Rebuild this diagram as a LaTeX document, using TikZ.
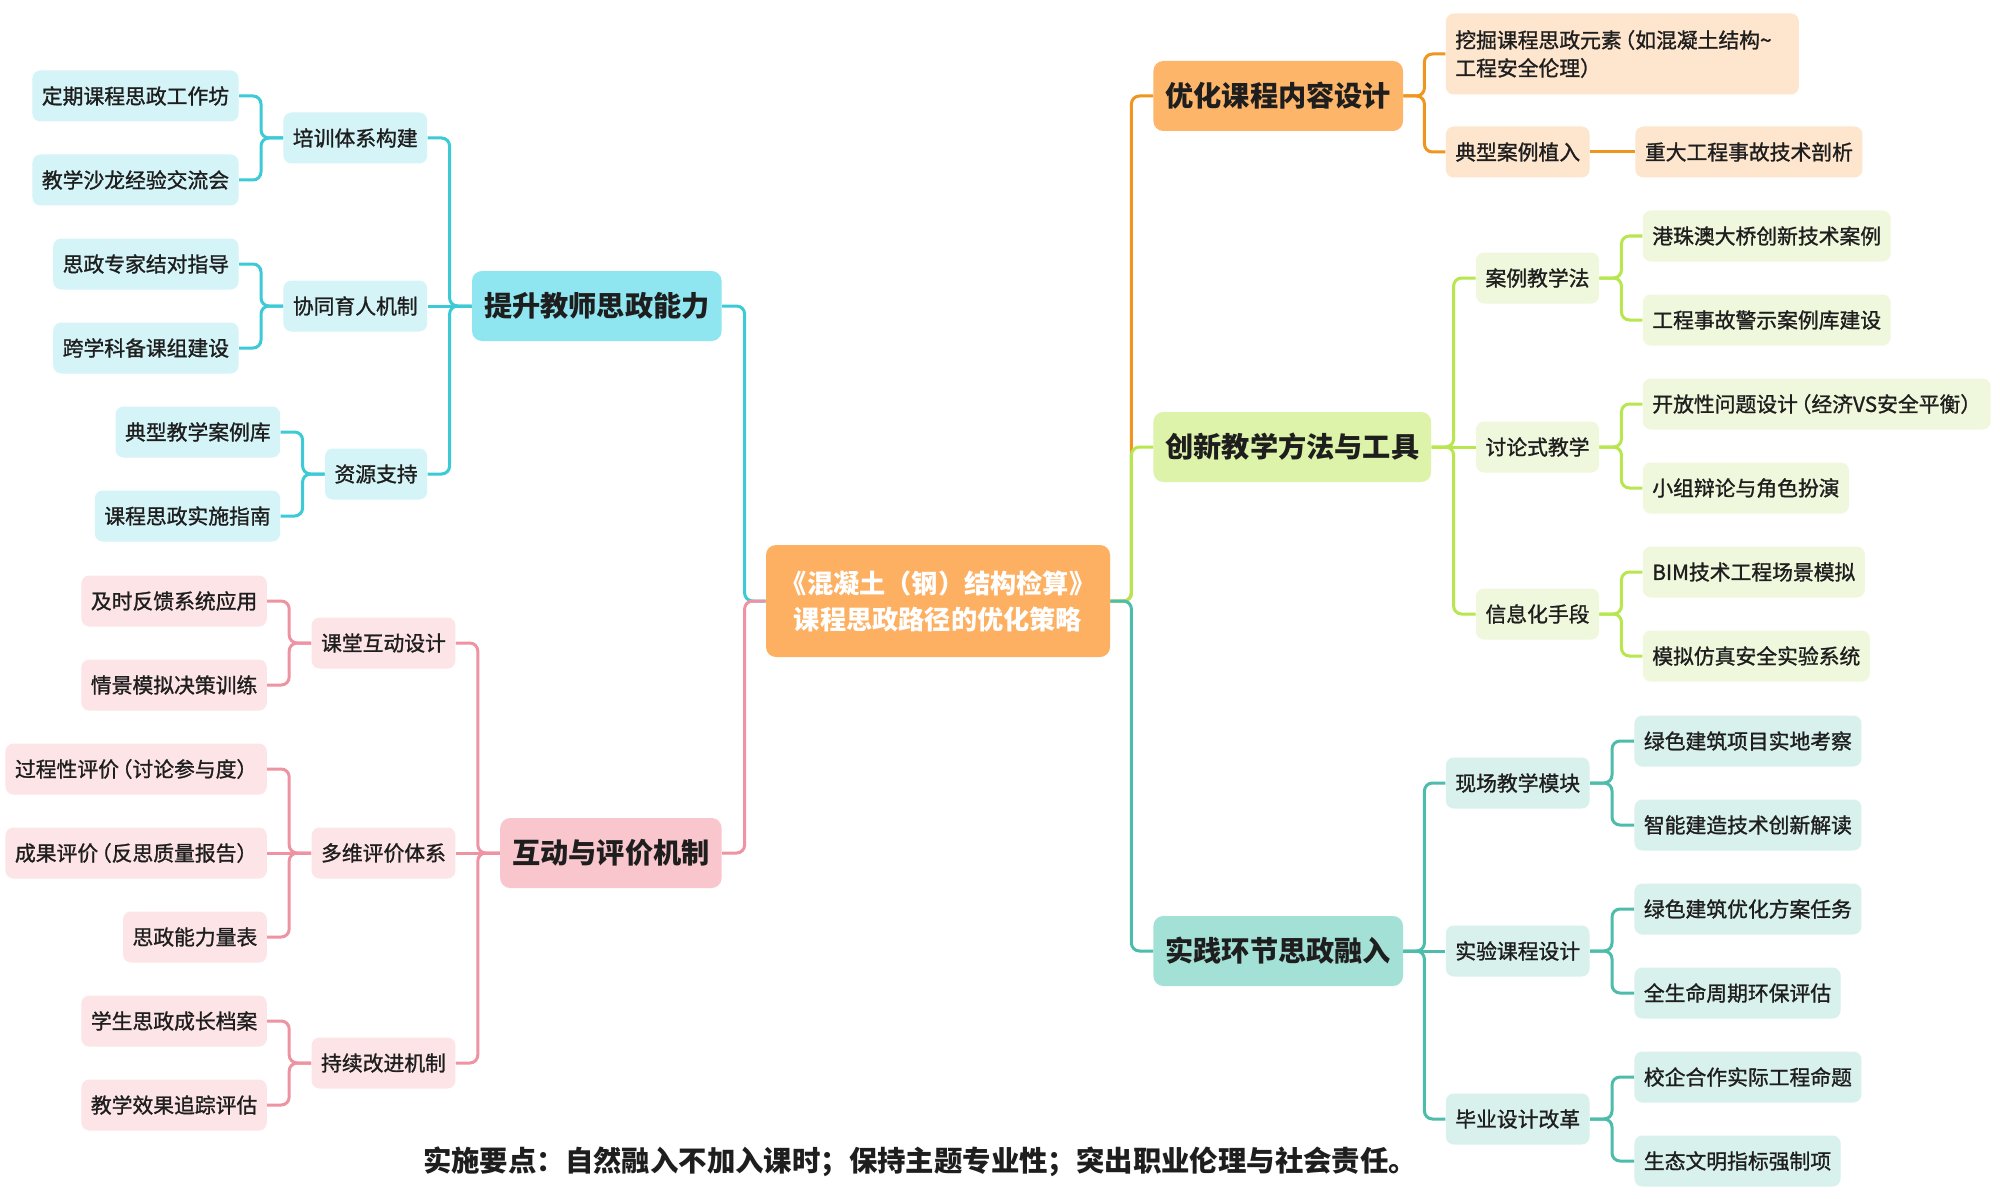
\documentclass[tikz,border=0pt]{standalone}
\usepackage{fontspec}
\setmainfont{Noto Sans CJK SC}
\newfontfamily\medfont{Noto Sans CJK SC}[FakeBold=1.2]
\usetikzlibrary{calc}
\newcommand{\lpar}{\hspace{-0.35em}（}
\newcommand{\rpar}{）\hspace{-0.35em}}
\definecolor{cyL}{HTML}{3CCAD6}\definecolor{cyA}{HTML}{8FE6F0}\definecolor{cyB}{HTML}{D4F4F8}
\definecolor{pkL}{HTML}{EE93A2}\definecolor{pkA}{HTML}{FAC6CD}\definecolor{pkB}{HTML}{FDE4E7}
\definecolor{orL}{HTML}{EE961F}\definecolor{orA}{HTML}{FDB56A}\definecolor{orB}{HTML}{FEE5CD}
\definecolor{grL}{HTML}{B7E64E}\definecolor{grA}{HTML}{DDF3A9}\definecolor{grB}{HTML}{EFF8DC}
\definecolor{tlL}{HTML}{4DBCAA}\definecolor{tlA}{HTML}{A3E0D6}\definecolor{tlB}{HTML}{D8F1EC}
\definecolor{rootC}{HTML}{FDAF62}
\definecolor{txt}{HTML}{1E1E1E}
\tikzset{
  box/.style={rounded corners=4pt, inner xsep=4.75pt, inner ysep=0pt, minimum height=25.5pt,
    font=\medfont\fontsize{10.4}{13}\selectfont, text=txt},
  lone/.style={rounded corners=5pt, inner xsep=6pt, inner ysep=0pt, minimum height=35pt,
    font=\fontsize{14.1}{17}\selectfont\bfseries, text=txt},
  conn/.style={line width=1.5pt, rounded corners=4pt},
  cyline/.style={conn, draw=cyL}, pkline/.style={conn, draw=pkL}, orline/.style={conn, draw=orL},
  grline/.style={conn, draw=grL}, tlline/.style={conn, draw=tlL},
  cy1/.style={lone, fill=cyA}, cy2/.style={box, fill=cyB},
  pk1/.style={lone, fill=pkA}, pk2/.style={box, fill=pkB},
  or1/.style={lone, fill=orA}, or2/.style={box, fill=orB},
  gr1/.style={lone, fill=grA}, gr2/.style={box, fill=grB},
  tl1/.style={lone, fill=tlA}, tl2/.style={box, fill=tlB},
}
\begin{document}
\begin{tikzpicture}[x=0.5pt, y=-0.5pt]
\fill[white] (0,0) rectangle (2000,1198);
\useasboundingbox (0,0) rectangle (2000,1198);

% root
\node[fill=rootC, rounded corners=5pt, minimum width=172pt, minimum height=56pt, align=center,
  font=\fontsize{13.1}{18}\selectfont\bfseries, text=white] (root) at (938,601)
  {《混凝土（钢）结构检算》\\课程思政路径的优化策略};

% ---------- left top: cyan
\node[cy1, anchor=east] (p1) at (722,306) {提升教师思政能力};
\node[cy2, anchor=east] (a1) at ($(p1.west |- 0,138)+(-44,0)$) {培训体系构建};
\node[cy2, anchor=east] (a2) at ($(p1.west |- 0,306)+(-44,0)$) {协同育人机制};
\node[cy2, anchor=east] (a3) at ($(p1.west |- 0,474)+(-44,0)$) {资源支持};
\node[cy2, anchor=east] (a11) at ($(a1.west |- 0,96)+(-44,0)$) {定期课程思政工作坊};
\node[cy2, anchor=east] (a12) at ($(a1.west |- 0,180)+(-44,0)$) {教学沙龙经验交流会};
\node[cy2, anchor=east] (a21) at ($(a2.west |- 0,264)+(-44,0)$) {思政专家结对指导};
\node[cy2, anchor=east] (a22) at ($(a2.west |- 0,348)+(-44,0)$) {跨学科备课组建设};
\node[cy2, anchor=east] (a31) at ($(a3.west |- 0,432)+(-44,0)$) {典型教学案例库};
\node[cy2, anchor=east] (a32) at ($(a3.west |- 0,516)+(-44,0)$) {课程思政实施指南};

% ---------- left bottom: pink
\node[pk1, anchor=east] (p2) at (722,853) {互动与评价机制};
\node[pk2, anchor=east] (b1) at ($(p2.west |- 0,643)+(-44,0)$) {课堂互动设计};
\node[pk2, anchor=east] (b2) at ($(p2.west |- 0,853)+(-44,0)$) {多维评价体系};
\node[pk2, anchor=east] (b3) at ($(p2.west |- 0,1063)+(-44,0)$) {持续改进机制};
\node[pk2, anchor=east] (b11) at ($(b1.west |- 0,601)+(-44,0)$) {及时反馈系统应用};
\node[pk2, anchor=east] (b12) at ($(b1.west |- 0,685)+(-44,0)$) {情景模拟决策训练};
\node[pk2, anchor=east] (b21) at ($(b2.west |- 0,769)+(-44,0)$) {过程性评价\lpar 讨论参与度\rpar};
\node[pk2, anchor=east] (b22) at ($(b2.west |- 0,853)+(-44,0)$) {成果评价\lpar 反思质量报告\rpar};
\node[pk2, anchor=east] (b23) at ($(b2.west |- 0,937)+(-44,0)$) {思政能力量表};
\node[pk2, anchor=east] (b31) at ($(b3.west |- 0,1021)+(-44,0)$) {学生思政成长档案};
\node[pk2, anchor=east] (b32) at ($(b3.west |- 0,1105)+(-44,0)$) {教学效果追踪评估};

% ---------- right top: orange
\node[or1, anchor=west] (q1) at (1153,96) {优化课程内容设计};
\node[or2, anchor=west, align=left, text width=167pt, minimum height=40.5pt, font=\medfont\fontsize{10.4}{14}\selectfont] (c1)
  at ($(q1.east |- 0,54)+(42,0)$) {挖掘课程思政元素\lpar 如混凝土结构\textasciitilde\\工程安全伦理\rpar};
\node[or2, anchor=west] (c2) at ($(q1.east |- 0,152)+(42,0)$) {典型案例植入};
\node[or2, anchor=west] (c21) at ($(c2.east |- 0,152)+(45,0)$) {重大工程事故技术剖析};

% ---------- right middle: green
\node[gr1, anchor=west] (q2) at (1153,447) {创新教学方法与工具};
\node[gr2, anchor=west] (d1) at ($(q2.east |- 0,278)+(44,0)$) {案例教学法};
\node[gr2, anchor=west] (d2) at ($(q2.east |- 0,447)+(44,0)$) {讨论式教学};
\node[gr2, anchor=west] (d3) at ($(q2.east |- 0,614)+(44,0)$) {信息化手段};
\node[gr2, anchor=west] (d11) at ($(d1.east |- 0,236)+(43,0)$) {港珠澳大桥创新技术案例};
\node[gr2, anchor=west] (d12) at ($(d1.east |- 0,320)+(43,0)$) {工程事故警示案例库建设};
\node[gr2, anchor=west] (d21) at ($(d2.east |- 0,404)+(43,0)$) {开放性问题设计\lpar 经济VS安全平衡\rpar};
\node[gr2, anchor=west] (d22) at ($(d2.east |- 0,488)+(43,0)$) {小组辩论与角色扮演};
\node[gr2, anchor=west] (d31) at ($(d3.east |- 0,572)+(43,0)$) {BIM技术工程场景模拟};
\node[gr2, anchor=west] (d32) at ($(d3.east |- 0,656)+(43,0)$) {模拟仿真安全实验系统};

% ---------- right bottom: teal
\node[tl1, anchor=west] (q3) at (1153,951) {实践环节思政融入};
\node[tl2, anchor=west] (e1) at ($(q3.east |- 0,783)+(42,0)$) {现场教学模块};
\node[tl2, anchor=west] (e2) at ($(q3.east |- 0,951)+(42,0)$) {实验课程设计};
\node[tl2, anchor=west] (e3) at ($(q3.east |- 0,1119)+(42,0)$) {毕业设计改革};
\node[tl2, anchor=west] (e11) at ($(e1.east |- 0,741)+(44,0)$) {绿色建筑项目实地考察};
\node[tl2, anchor=west] (e12) at ($(e1.east |- 0,825)+(44,0)$) {智能建造技术创新解读};
\node[tl2, anchor=west] (e21) at ($(e2.east |- 0,909)+(44,0)$) {绿色建筑优化方案任务};
\node[tl2, anchor=west] (e22) at ($(e2.east |- 0,993)+(44,0)$) {全生命周期环保评估};
\node[tl2, anchor=west] (e31) at ($(e3.east |- 0,1077)+(44,0)$) {校企合作实际工程命题};
\node[tl2, anchor=west] (e32) at ($(e3.east |- 0,1161)+(44,0)$) {生态文明指标强制项};

% footer
\node[font=\fontsize{14.2}{17}\selectfont\bfseries, text=txt] (foot) at (920,1162)
  {实施要点：自然融入不加入课时；保持主题专业性；突出职业伦理与社会责任。};

% ---------- connectors
\draw[cyline] (root.west) -- ++(-21,0) |- (p1.east);
\draw[pkline] (root.west) -- ++(-21,0) |- (p2.east);
\draw[orline] (root.east) -- ++(21,0) |- (q1.west);
\draw[grline] (root.east) -- ++(21,0) |- (q2.west);
\draw[tlline] (root.east) -- ++(21,0) |- (q3.west);

\draw[cyline] (p1.west) -- ++(-22,0) |- (a1.east);
\draw[cyline] (p1.west) -- (a2.east);
\draw[cyline] (p1.west) -- ++(-22,0) |- (a3.east);
\draw[cyline] (a1.west) -- ++(-22,0) |- (a11.east);
\draw[cyline] (a1.west) -- ++(-22,0) |- (a12.east);
\draw[cyline] (a2.west) -- ++(-22,0) |- (a21.east);
\draw[cyline] (a2.west) -- ++(-22,0) |- (a22.east);
\draw[cyline] (a3.west) -- ++(-22,0) |- (a31.east);
\draw[cyline] (a3.west) -- ++(-22,0) |- (a32.east);

\draw[pkline] (p2.west) -- ++(-22,0) |- (b1.east);
\draw[pkline] (p2.west) -- (b2.east);
\draw[pkline] (p2.west) -- ++(-22,0) |- (b3.east);
\draw[pkline] (b1.west) -- ++(-22,0) |- (b11.east);
\draw[pkline] (b1.west) -- ++(-22,0) |- (b12.east);
\draw[pkline] (b2.west) -- ++(-22,0) |- (b21.east);
\draw[pkline] (b2.west) -- (b22.east);
\draw[pkline] (b2.west) -- ++(-22,0) |- (b23.east);
\draw[pkline] (b3.west) -- ++(-22,0) |- (b31.east);
\draw[pkline] (b3.west) -- ++(-22,0) |- (b32.east);

\draw[orline] (q1.east) -- ++(21,0) |- (c1.west);
\draw[orline] (q1.east) -- ++(21,0) |- (c2.west);
\draw[orline] (c2.east) -- (c21.west);

\draw[grline] (q2.east) -- ++(22,0) |- (d1.west);
\draw[grline] (q2.east) -- (d2.west);
\draw[grline] (q2.east) -- ++(22,0) |- (d3.west);
\draw[grline] (d1.east) -- ++(22,0) |- (d11.west);
\draw[grline] (d1.east) -- ++(22,0) |- (d12.west);
\draw[grline] (d2.east) -- ++(22,0) |- (d21.west);
\draw[grline] (d2.east) -- ++(22,0) |- (d22.west);
\draw[grline] (d3.east) -- ++(22,0) |- (d31.west);
\draw[grline] (d3.east) -- ++(22,0) |- (d32.west);

\draw[tlline] (q3.east) -- ++(21,0) |- (e1.west);
\draw[tlline] (q3.east) -- (e2.west);
\draw[tlline] (q3.east) -- ++(21,0) |- (e3.west);
\draw[tlline] (e1.east) -- ++(22,0) |- (e11.west);
\draw[tlline] (e1.east) -- ++(22,0) |- (e12.west);
\draw[tlline] (e2.east) -- ++(22,0) |- (e21.west);
\draw[tlline] (e2.east) -- ++(22,0) |- (e22.west);
\draw[tlline] (e3.east) -- ++(22,0) |- (e31.west);
\draw[tlline] (e3.east) -- ++(22,0) |- (e32.west);
\end{tikzpicture}
\end{document}
